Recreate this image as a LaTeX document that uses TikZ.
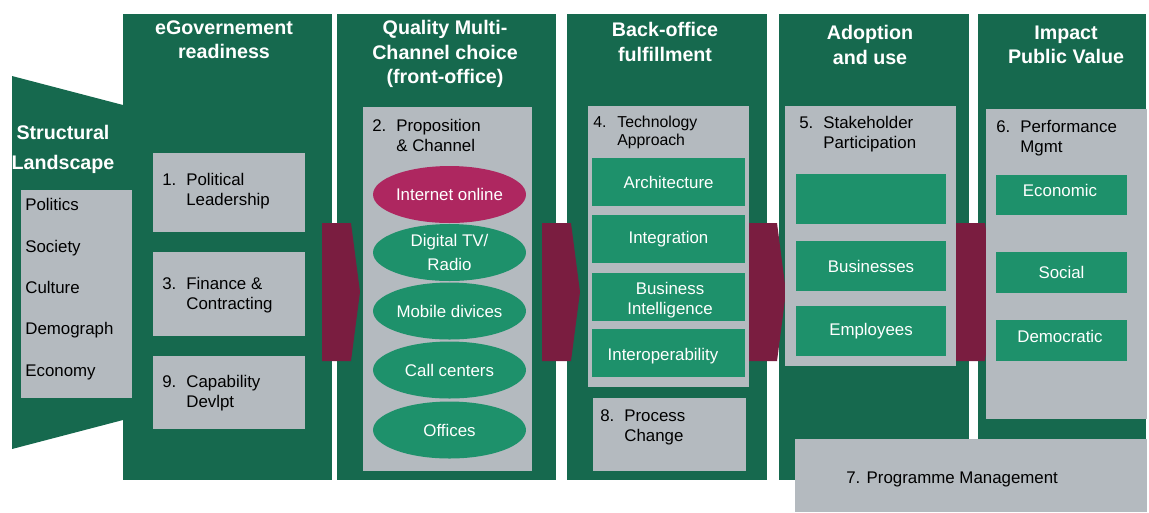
\documentclass[tikz,border=0pt]{standalone}
\usepackage{fontspec}
\setmainfont{Liberation Sans}
\usetikzlibrary{shapes.geometric}
\definecolor{panelgreen}{HTML}{16694E}
\definecolor{boxgreen}{HTML}{1E916B}
\definecolor{arrowred}{HTML}{7A1D40}
\definecolor{onlinered}{HTML}{AE2760}
\definecolor{boxgray}{HTML}{B4BABF}
\newcommand\numtext[3]{\begin{tabular}[t]{@{}p{0.48cm}@{}l@{}}#1&#2\\&#3\end{tabular}}
\begin{document}
\begin{tikzpicture}[x=0.02cm,y=-0.02cm,
	font=\fontsize{9.6}{11.4}\selectfont,
	head/.style={text=white,align=center,font=\fontsize{11.2}{13.8}\selectfont\bfseries},
	itemtxt/.style={anchor=base west,inner sep=0pt},
	whitetxt/.style={text=white,align=center,inner sep=0pt},
	chan/.style={ellipse,fill=boxgreen,text=white,minimum width=3.06cm,minimum height=1.14cm,inner sep=0pt,align=center},
	techbox/.style={fill=boxgreen,text=white,minimum width=3.06cm,minimum height=0.96cm,inner sep=0pt,align=center},
	userbox/.style={fill=boxgreen,text=white,minimum width=3cm,minimum height=1cm,inner sep=0pt},
	valuebox/.style={fill=boxgreen,text=white,minimum width=2.62cm,minimum height=0.81cm,inner sep=0pt}]
	\useasboundingbox (0,0) rectangle (1149,512);
	\fill[panelgreen] (12,76)--(123,105)--(123,420)--(12,449)--cycle;
	\foreach \xa/\xb in {123/332,337/556,567/767,779/969,978/1146}
		\fill[panelgreen] (\xa,14) rectangle (\xb,480);
	\foreach \xa in {322,542,748,956}
		\fill[arrowred] (\xa,223)--++(29,0)--++(9,69)--++(-9,69)--++(-29,0)--cycle;
	\fill[boxgray] (21,190) rectangle (132,398);
	\fill[boxgray] (153,153) rectangle (305,232);
	\fill[boxgray] (153,252) rectangle (305,336);
	\fill[boxgray] (153,356) rectangle (305,429);
	\fill[boxgray] (363,107) rectangle (532,471);
	\fill[boxgray] (588,106) rectangle (749,387);
	\fill[boxgray] (593,398) rectangle (746,471);
	\fill[boxgray] (785,106) rectangle (956,366);
	\fill[boxgray] (986,109) rectangle (1147,419);
	\fill[boxgray] (795,439) rectangle (1147,512);

	\node[head,font=\fontsize{11.2}{17}\selectfont\bfseries] (struct) at (63,149) {Structural\\Landscape};
	\node[head] (readiness) at (224,40) {eGovernement\\readiness};
	\node[head] (channels) at (445,54) {Quality Multi-\\Channel choice\\(front-office)};
	\node[head] (backoffice) at (665,42) {Back-office\\fulfillment};
	\node[head] (adoption) at (870,45) {Adoption\\and use};
	\node[head] (impact) at (1066,45) {Impact\\Public Value};

	\node[itemtxt] (politics) at (25,210) {Politics};
	\node[itemtxt] (society) at (25,252) {Society};
	\node[itemtxt] (culture) at (25,293) {Culture};
	\node[itemtxt] (demograph) at (25,334) {Demograph};
	\node[itemtxt] (economy) at (25,376) {Economy};

	\node[itemtxt] (political) at (162,185) {\numtext{1.}{Political}{Leadership}};
	\node[itemtxt] (finance) at (162,289) {\numtext{3.}{Finance \&}{Contracting}};
	\node[itemtxt] (capability) at (162,387) {\numtext{9.}{Capability}{Devlpt}};
	\node[itemtxt] (proposition) at (372,131) {\numtext{2.}{Proposition}{\& Channel}};
	\node[itemtxt,font=\fontsize{9}{10.4}\selectfont] (technology) at (593,127) {\numtext{4.}{Technology}{Approach}};
	\node[itemtxt] (process) at (600,421) {\numtext{8.}{Process}{Change}};
	\node[itemtxt] (stakeholder) at (799,128) {\numtext{5.}{Stakeholder}{Participation}};
	\node[itemtxt] (performance) at (996,132) {\numtext{6.}{Performance}{Mgmt}};
	\node[itemtxt] (programme) at (846,483) {7. Programme Management};

	\node[chan,fill=onlinered] (online) at (449.5,194.5) {Internet online};
	\node[chan,font=\fontsize{9.6}{14}\selectfont] (tv) at (449.5,252.5) {Digital TV/\\Radio};
	\node[chan] (mobile) at (449.5,311) {Mobile divices};
	\node[chan] (call) at (449.5,370) {Call centers};
	\node[chan] (offices) at (449.5,430) {Offices};

	\node[techbox] (architecture) at (668.5,182) {Architecture};
	\node[techbox] (integration) at (668.5,239) {Integration};
	\node[techbox] (intelligence) at (668.5,297) {};
	\node[whitetxt] (intelligencetxt) at (670,300) {Business\\Intelligence};
	\node[techbox] (interop) at (668.5,353) {};
	\node[whitetxt] (interoptxt) at (663,356) {Interoperability};

	\node[userbox] (blank) at (871,198.5) {};
	\node[userbox] (businesses) at (871,266) {Businesses};
	\node[userbox] (employees) at (871,331) {Employees};

	\node[valuebox] (economic) at (1061.5,195) {};
	\node[whitetxt] (economictxt) at (1060,190) {Economic};
	\node[valuebox] (social) at (1061.5,272.5) {Social};
	\node[valuebox] (democratic) at (1061.5,340.5) {};
	\node[whitetxt] (democratictxt) at (1060,336.5) {Democratic};
\end{tikzpicture}
\end{document}
